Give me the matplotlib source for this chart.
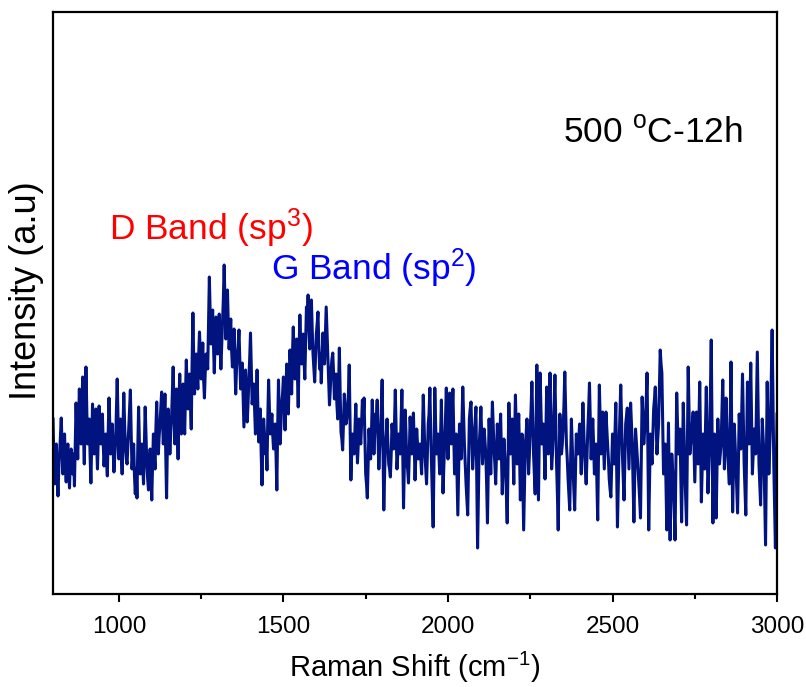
# Raman spectrum, 500 C - 12h sample
import numpy as np
import matplotlib
matplotlib.use("Agg")
import matplotlib.pyplot as plt
from matplotlib.ticker import MultipleLocator

plt.rcParams['font.family'] = ['Liberation Sans', 'DejaVu Sans']
plt.rcParams['mathtext.fontset'] = 'custom'
plt.rcParams['mathtext.rm'] = 'Liberation Sans'
plt.rcParams['mathtext.it'] = 'Liberation Sans:italic'

# Raman shift (cm-1): readings every 2.5 cm-1 from 800 to 3000
shift_start = 800
shift_step = 2.5

# intensity (a.u.) at 800, 805, 810 ... (blocks of 100 cm-1)
int_800 = [175, 110, 150, 98, 140, 176, 120, 160, 112, 150, 106, 145, 120, 108, 191, 135, 205, 150, 217, 130]
int_900 = [227, 150, 175, 111, 190, 140, 185, 125, 188, 150, 180, 128, 160, 118, 196, 140, 170, 122, 150, 215]
int_1000 = [135, 175, 120, 201, 145, 130, 165, 204, 125, 150, 100, 96, 187, 120, 150, 110, 187, 130, 104, 145]
int_1100 = [94, 160, 125, 192, 140, 170, 202, 150, 200, 96, 185, 140, 175, 227, 150, 205, 135, 220, 160, 210]
int_1200 = [160, 234, 185, 220, 165, 281, 200, 240, 205, 262, 215, 251, 196, 240, 225, 317, 250, 284, 221, 277]
int_1300 = [240, 280, 225, 270, 329, 255, 304, 245, 275, 227, 265, 200, 240, 264, 205, 231, 167, 224, 172, 215]
int_1400 = [261, 190, 210, 160, 224, 152, 185, 109, 175, 140, 124, 214, 160, 180, 145, 170, 104, 214, 150, 190]
int_1500 = [217, 164, 230, 180, 244, 200, 267, 215, 255, 187, 279, 230, 260, 215, 287, 299, 245, 294, 240, 212]
int_1600 = [260, 282, 225, 211, 261, 230, 287, 240, 189, 225, 241, 195, 220, 175, 246, 162, 144, 200, 170, 185]
int_1700 = [229, 114, 160, 140, 190, 131, 175, 150, 194, 196, 120, 96, 165, 135, 194, 140, 180, 194, 125, 160]
int_1800 = [214, 84, 150, 175, 130, 117, 170, 145, 204, 125, 160, 140, 204, 86, 184, 130, 111, 177, 140, 181]
int_1900 = [114, 165, 135, 150, 120, 199, 140, 110, 170, 206, 130, 67, 206, 140, 160, 120, 194, 101, 150, 206]
int_2000 = [135, 201, 150, 205, 120, 160, 79, 170, 135, 207, 150, 110, 79, 175, 192, 125, 160, 187, 46, 150]
int_2100 = [187, 130, 165, 140, 71, 175, 120, 192, 145, 110, 170, 135, 180, 100, 155, 125, 71, 191, 140, 175]
int_2200 = [110, 199, 130, 180, 94, 160, 64, 150, 175, 120, 165, 212, 140, 100, 229, 94, 221, 150, 170, 115]
int_2300 = [207, 140, 221, 125, 160, 219, 130, 64, 180, 140, 165, 222, 150, 115, 84, 175, 125, 84, 160, 140]
int_2400 = [170, 120, 191, 140, 110, 165, 211, 135, 175, 120, 150, 74, 209, 140, 182, 125, 182, 150, 115, 97]
int_2500 = [160, 130, 191, 67, 150, 209, 140, 94, 170, 186, 125, 191, 150, 72, 165, 140, 110, 76, 197, 150]
int_2600 = [175, 221, 64, 160, 130, 185, 207, 140, 170, 244, 221, 120, 150, 64, 171, 54, 140, 110, 54, 201]
int_2700 = [140, 165, 72, 191, 120, 69, 227, 140, 160, 182, 112, 182, 130, 212, 92, 160, 125, 207, 101, 150]
int_2800 = [254, 71, 160, 76, 175, 130, 150, 214, 125, 196, 140, 110, 232, 82, 170, 130, 81, 180, 145, 220]
int_2900 = [130, 79, 212, 150, 231, 120, 165, 140, 242, 130, 89, 175, 140, 49, 212, 120, 170, 264, 130, 46]
int_3000 = [180]

# intensity (a.u.) at the in-between readings 802.5, 807.5, 812.5 ...
mid_800 = [135, 128, 120, 125, 158, 148, 142, 130, 138, 125, 132, 128, 140, 150, 160, 168, 172, 180, 160, 178]
mid_900 = [185, 160, 140, 150, 165, 162, 150, 158, 170, 165, 150, 145, 135, 160, 170, 155, 145, 138, 182, 175]
mid_1000 = [160, 140, 165, 170, 135, 150, 185, 160, 140, 118, 125, 145, 150, 135, 128, 150, 160, 115, 128, 120]
mid_1100 = [130, 140, 165, 160, 158, 185, 175, 168, 140, 150, 165, 160, 200, 190, 180, 170, 190, 185, 190, 180]
mid_1200 = [200, 205, 200, 190, 230, 235, 225, 220, 238, 240, 230, 215, 222, 235, 270, 280, 265, 250, 255, 260]
mid_1300 = [262, 250, 248, 295, 290, 280, 270, 260, 245, 240, 230, 225, 250, 235, 215, 200, 195, 198, 190, 235]
mid_1400 = [225, 200, 185, 190, 185, 160, 140, 150, 160, 150, 175, 185, 170, 160, 155, 140, 165, 180, 170, 200]
mid_1500 = [190, 200, 205, 215, 225, 240, 235, 230, 220, 240, 250, 255, 235, 250, 270, 265, 270, 265, 225, 235]
mid_1600 = [270, 250, 240, 235, 245, 260, 262, 215, 205, 235, 220, 210, 190, 205, 200, 155, 170, 185, 175, 200]
mid_1700 = [170, 140, 150, 165, 160, 150, 162, 170, 175, 160, 110, 130, 150, 160, 165, 160, 175, 155, 145, 185]
mid_1800 = [150, 120, 160, 150, 125, 140, 158, 170, 165, 140, 150, 170, 145, 130, 160, 125, 140, 158, 160, 150]
mid_1900 = [140, 150, 142, 135, 160, 170, 125, 140, 180, 165, 100, 130, 170, 150, 140, 155, 145, 128, 175, 170]
mid_2000 = [165, 175, 180, 160, 140, 120, 125, 150, 170, 178, 130, 95, 125, 185, 158, 140, 172, 120, 100, 165]
mid_2100 = [158, 148, 152, 110, 120, 150, 155, 168, 130, 140, 150, 158, 140, 130, 140, 100, 130, 165, 158, 145]
mid_2200 = [155, 165, 155, 140, 125, 110, 105, 160, 150, 140, 185, 175, 120, 160, 160, 155, 185, 160, 145, 160]
mid_2300 = [175, 180, 175, 140, 190, 175, 100, 120, 160, 150, 190, 185, 135, 100, 130, 150, 105, 120, 150, 155]
mid_2400 = [145, 160, 165, 125, 138, 185, 172, 155, 150, 135, 110, 140, 175, 160, 155, 152, 165, 135, 105, 128]
mid_2500 = [145, 160, 130, 110, 180, 175, 118, 130, 178, 155, 158, 170, 110, 120, 152, 125, 95, 135, 172, 162]
mid_2600 = [195, 140, 110, 145, 158, 195, 175, 155, 205, 230, 170, 135, 110, 120, 110, 100, 125, 85, 130, 170]
mid_2700 = [150, 118, 130, 155, 95, 150, 185, 150, 170, 148, 148, 155, 170, 150, 125, 140, 165, 155, 125, 200]
mid_2800 = [160, 115, 120, 125, 150, 140, 180, 170, 160, 168, 125, 170, 160, 125, 150, 105, 130, 160, 180, 175]
mid_2900 = [105, 145, 180, 190, 175, 140, 152, 190, 185, 110, 130, 158, 95, 130, 165, 145, 215, 195, 90, 110]

main_vals = (int_800 + int_900 + int_1000 + int_1100 + int_1200 + int_1300
             + int_1400 + int_1500 + int_1600 + int_1700 + int_1800 + int_1900
             + int_2000 + int_2100 + int_2200 + int_2300 + int_2400 + int_2500
             + int_2600 + int_2700 + int_2800 + int_2900 + int_3000)
mid_vals = (mid_800 + mid_900 + mid_1000 + mid_1100 + mid_1200 + mid_1300
            + mid_1400 + mid_1500 + mid_1600 + mid_1700 + mid_1800 + mid_1900
            + mid_2000 + mid_2100 + mid_2200 + mid_2300 + mid_2400 + mid_2500
            + mid_2600 + mid_2700 + mid_2800 + mid_2900)

intensity = np.empty(len(main_vals) + len(mid_vals))
intensity[0::2] = main_vals
intensity[1::2] = mid_vals
shift = shift_start + shift_step * np.arange(len(intensity))

fig = plt.figure(figsize=(8.06, 6.87), dpi=100)
ax = fig.add_axes([0.0658, 0.1354, 0.8983, 0.8471])

ax.plot(shift, intensity, color='#00137f', lw=2.2)

ax.set_xlim(800, 3000)
ax.set_ylim(0, 582)
ax.xaxis.set_major_locator(MultipleLocator(500))
ax.xaxis.set_minor_locator(MultipleLocator(250))
ax.set_yticks([])
ax.tick_params(axis='x', which='major', direction='out', length=6, width=1.5,
               labelsize=17.5, pad=10)
ax.tick_params(axis='x', which='minor', direction='out', length=3.5, width=1.5)
for sp in ax.spines.values():
    sp.set_linewidth(1.6)

ax.set_xlabel(r'Raman Shift (cm$\mathregular{^{-1}}$)', fontsize=21, labelpad=8)
ax.set_ylabel('Intensity (a.u)', fontsize=26)
ax.yaxis.set_label_coords(-0.012, 0.521)

ax.text(0.829, 0.792, r'500 $\mathregular{^{o}}$C-12h', transform=ax.transAxes,
        fontsize=25.5, ha='center', va='center')
ax.text(0.218, 0.629, r'D Band (sp$\mathregular{^{3}}$)', transform=ax.transAxes,
        fontsize=25.5, color='red', ha='center', va='center')
ax.text(0.443, 0.560, r'G Band (sp$\mathregular{^{2}}$)', transform=ax.transAxes,
        fontsize=25.5, color='blue', ha='center', va='center')

fig.savefig('out.png', dpi=100)
